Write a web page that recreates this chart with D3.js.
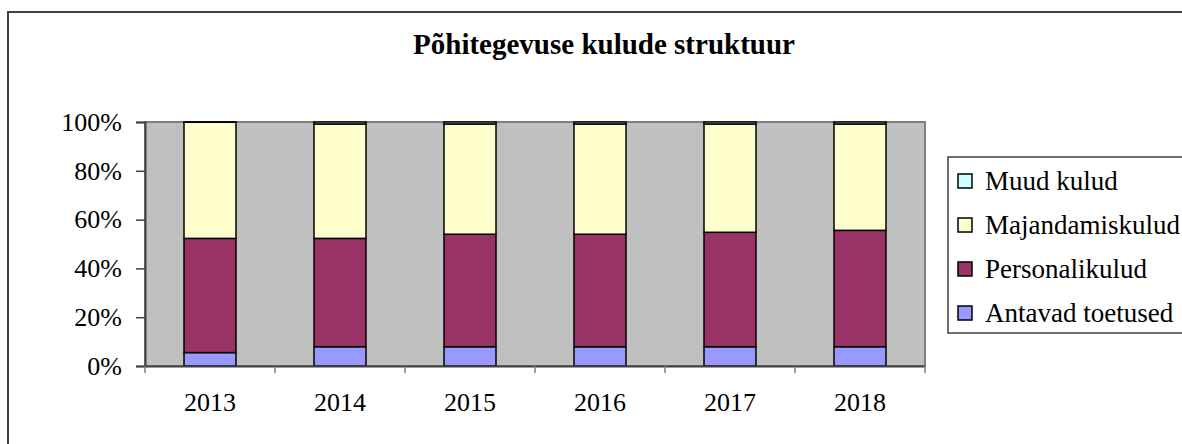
<!DOCTYPE html>
<html>
<head>
<meta charset="utf-8">
<script src="https://cdn.jsdelivr.net/npm/d3@7.9.0/dist/d3.min.js"></script>
<style>
  body { margin: 0; background: #fff; }
  text { font-family: "Liberation Serif", "Times New Roman", serif; fill: #000; }
</style>
</head>
<body>
<div id="chart"></div>
<script>
// data
const years = ['2013', '2014', '2015', '2016', '2017', '2018'];
const antavad = [5.5, 7.9, 7.9, 7.9, 7.9, 7.9];
const personal = [46.8, 44.4, 46.1, 46.1, 46.9, 47.7];
const majandamis = [47.6, 46.9, 45.2, 45.2, 44.4, 43.6];
const muud = [0.1, 0.8, 0.8, 0.8, 0.8, 0.8];
const yTicks = [0, 20, 40, 60, 80, 100];

const series = [
  { key: 'antavad', label: 'Antavad toetused', color: '#9999ff', values: antavad },
  { key: 'personal', label: 'Personalikulud', color: '#993366', values: personal },
  { key: 'majandamis', label: 'Majandamiskulud', color: '#ffffcc', values: majandamis },
  { key: 'muud', label: 'Muud kulud', color: '#ccffff', values: muud },
];

const rows = years.map((y, i) => {
  const r = { year: y };
  series.forEach((s) => (r[s.key] = s.values[i]));
  return r;
});

const W = 1182;
const H = 444;
const plot = { left: 145, right: 925, top: 122, bottom: 366 };

const svg = d3
  .select('#chart')
  .append('svg')
  .attr('width', W)
  .attr('height', H);

// chart area border
svg
  .append('rect')
  .attr('x', 8)
  .attr('y', 12)
  .attr('width', 1300)
  .attr('height', 600)
  .attr('fill', '#fff')
  .attr('stroke', '#404040')
  .attr('stroke-width', 2);

svg
  .append('text')
  .attr('x', 604)
  .attr('y', 54)
  .attr('text-anchor', 'middle')
  .attr('font-size', 29)
  .attr('font-weight', 'bold')
  .text('Põhitegevuse kulude struktuur');

const x = d3.scaleBand().domain(years).range([plot.left, plot.right]).paddingInner(0.6).paddingOuter(0.3);
const xTicks = d3.scaleBand().domain(years).range([plot.left, plot.right]);
const y = d3.scaleLinear().domain([0, 100]).range([plot.bottom, plot.top]);

// plot background
svg
  .append('rect')
  .attr('x', plot.left)
  .attr('y', plot.top)
  .attr('width', plot.right - plot.left)
  .attr('height', plot.bottom - plot.top)
  .attr('fill', '#c0c0c0')
  .attr('stroke', '#808080')
  .attr('stroke-width', 2);

const stack = d3.stack().keys(series.map((s) => s.key));
const stacked = stack(rows);

svg
  .append('g')
  .selectAll('g')
  .data(stacked)
  .join('g')
  .attr('fill', (d, i) => series[i].color)
  .selectAll('rect')
  .data((d) => d)
  .join('rect')
  .attr('x', (d) => x(d.data.year))
  .attr('width', x.bandwidth())
  .attr('y', (d) => y(d[1]))
  .attr('height', (d) => y(d[0]) - y(d[1]))
  .attr('stroke', '#000')
  .attr('stroke-width', 1.5);

// y axis
const yAxis = svg
  .append('g')
  .attr('transform', `translate(${plot.left},0)`)
  .call(
    d3
      .axisLeft(y)
      .tickValues(yTicks)
      .tickFormat((d) => d + '%')
      .tickSize(9)
      .tickPadding(14)
  );
yAxis.select('.domain').attr('stroke', '#404040').attr('stroke-width', 2);
yAxis.selectAll('.tick line').attr('stroke', '#404040').attr('stroke-width', 1.5);
yAxis
  .selectAll('.tick text')
  .attr('font-size', 26)
  .attr('font-family', '"Liberation Serif", serif')
  .attr('fill', '#000');

// x axis
const xAxis = svg
  .append('g')
  .attr('transform', `translate(0,${plot.bottom})`)
  .call(d3.axisBottom(xTicks).tickSize(0).tickPadding(27));
xAxis.select('.domain').attr('stroke', '#404040').attr('stroke-width', 2);
xAxis
  .selectAll('.tick text')
  .attr('font-size', 26)
  .attr('font-family', '"Liberation Serif", serif')
  .attr('fill', '#000');

// category separator ticks
svg
  .append('g')
  .selectAll('line')
  .data(years.concat(['end']))
  .join('line')
  .attr('x1', (d, i) => (i < years.length ? xTicks(d) : plot.right))
  .attr('x2', (d, i) => (i < years.length ? xTicks(d) : plot.right))
  .attr('y1', plot.bottom)
  .attr('y2', plot.bottom + 7)
  .attr('stroke', '#808080')
  .attr('stroke-width', 1.5);

// legend
const legend = svg.append('g');
legend
  .append('rect')
  .attr('x', 948)
  .attr('y', 157)
  .attr('width', 300)
  .attr('height', 176)
  .attr('fill', '#fff')
  .attr('stroke', '#404040')
  .attr('stroke-width', 1.5);

const legendItems = series.slice().reverse();
const li = legend
  .selectAll('g.item')
  .data(legendItems)
  .join('g')
  .attr('class', 'item')
  .attr('transform', (d, i) => `translate(958,${181 + i * 44})`);

li.append('rect')
  .attr('x', 0)
  .attr('y', -7)
  .attr('width', 14)
  .attr('height', 14)
  .attr('fill', (d) => d.color)
  .attr('stroke', '#000')
  .attr('stroke-width', 1.5);

li.append('text')
  .attr('x', 27)
  .attr('y', 0)
  .attr('dy', '0.35em')
  .attr('font-size', 27)
  .text((d) => d.label);
</script>
</body>
</html>
